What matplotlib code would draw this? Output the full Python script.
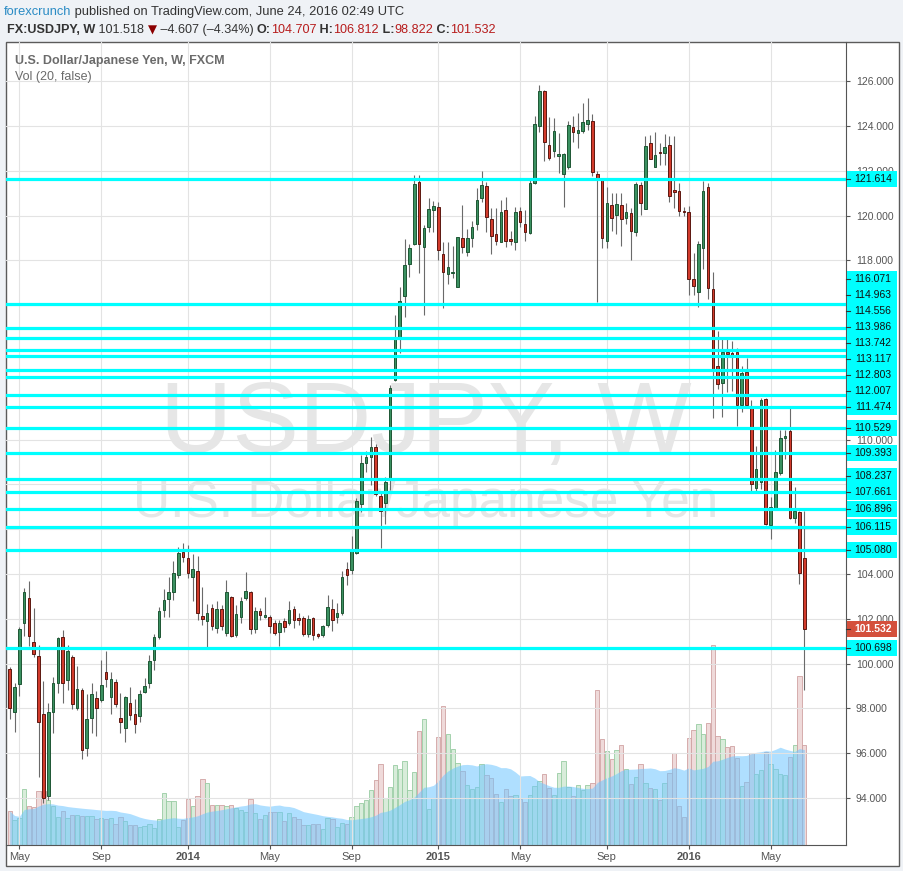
import numpy as np
import pandas as pd
import matplotlib
matplotlib.use("Agg")
import matplotlib.pyplot as plt
import matplotlib.dates as mdates
from matplotlib.patches import Rectangle
from matplotlib.lines import Line2D

plt.rcParams["font.family"] = ["Liberation Sans", "DejaVu Sans"]

W, H, DPI = 904, 871, 100

# weekly USDJPY bars (FXCM)
first_week = "2013-04-22"
opens = [99.74, 97.85, 99.08, 101.80, 102.95, 100.95, 100.35, 97.74, 94.07, 97.85,
         99.12, 101.17, 99.25, 100.31, 98.00, 98.82, 96.22, 97.56, 98.45, 98.36,
         99.63, 98.49, 99.16, 97.56, 97.11, 98.23, 97.74, 97.65, 98.72, 99.12,
         100.16, 101.20, 102.38, 102.90, 103.18, 103.96, 105.00, 104.70, 103.88, 104.12,
         102.13, 101.92, 102.47, 101.57, 102.42, 101.38, 102.96, 101.26, 102.06, 102.91,
         103.18, 101.53, 102.35, 102.10, 102.06, 101.80, 101.43, 101.90, 101.80, 102.42,
         102.02, 102.02, 101.31, 102.02, 101.31, 101.26, 101.71, 102.42, 102.10, 102.24,
         104.21, 104.20, 104.92, 107.11, 108.97, 109.24, 109.66, 107.48, 107.16, 108.27,
         112.66, 114.49, 116.43, 117.83, 118.72, 121.52, 118.58, 119.48, 120.23, 120.40,
         118.27, 117.38, 117.45, 116.83, 118.99, 118.39, 118.99, 119.63, 120.77, 121.32,
         119.83, 119.18, 118.81, 120.24, 118.96, 118.81, 120.19, 119.63, 119.21, 121.44,
         124.02, 125.56, 123.15, 122.90, 122.66, 121.84, 122.15, 123.97, 123.67, 123.79,
         124.07, 124.22, 121.84, 121.64, 118.88, 120.46, 120.03, 120.46, 119.91, 120.10,
         119.28, 121.35, 120.31, 123.23, 122.19, 122.86, 122.78, 123.15, 121.14, 121.10,
         120.20, 120.15, 117.16, 116.60, 118.57, 121.26, 116.72, 113.30, 112.51, 113.90,
         113.87, 113.90, 111.55, 113.03, 111.44, 107.85, 108.12, 111.81, 106.19, 106.96,
         108.50, 110.06, 110.38, 106.52, 106.75, 104.707]
highs = [99.83, 99.12, 101.65, 103.36, 103.69, 102.47, 100.83, 99.22, 98.23, 99.42,
         101.20, 101.50, 100.83, 100.40, 99.89, 98.90, 98.63, 99.12, 98.78, 100.16,
         100.56, 99.61, 99.31, 98.69, 98.57, 98.96, 98.42, 98.82, 99.37, 100.38,
         101.32, 102.54, 103.32, 103.88, 104.60, 105.20, 105.40, 105.30, 104.89, 104.80,
         103.43, 102.66, 102.66, 102.81, 102.62, 103.73, 103.00, 102.62, 102.99, 104.07,
         103.25, 102.54, 102.50, 102.99, 102.17, 101.95, 101.95, 102.02, 102.79, 102.57,
         102.24, 102.12, 102.17, 102.06, 101.35, 101.72, 103.06, 102.88, 102.72, 104.15,
         104.55, 105.70, 107.38, 109.31, 109.50, 110.10, 109.80, 107.60, 108.32, 112.44,
         115.56, 116.83, 118.96, 118.73, 121.80, 121.81, 119.58, 120.77, 120.67, 120.59,
         118.81, 118.84, 118.66, 119.06, 120.47, 119.40, 119.77, 121.22, 122.00, 121.52,
         120.32, 120.36, 120.70, 120.85, 119.30, 120.40, 120.40, 120.25, 121.63, 124.45,
         125.83, 125.60, 124.42, 124.34, 123.70, 122.80, 124.24, 124.45, 124.57, 125.01,
         125.27, 124.54, 122.00, 121.70, 121.26, 121.00, 121.00, 121.00, 120.55, 120.32,
         121.49, 121.49, 123.55, 123.60, 123.73, 123.23, 123.64, 123.55, 123.55, 121.47,
         120.40, 120.43, 118.32, 118.87, 121.55, 121.44, 117.47, 114.85, 114.49, 114.49,
         114.40, 114.08, 113.29, 113.63, 111.77, 109.73, 111.84, 111.87, 107.42, 109.54,
         110.43, 110.43, 111.43, 107.90, 106.81, 106.812]
lows = [97.54, 96.96, 98.57, 101.25, 100.79, 100.31, 94.95, 93.76, 93.90, 96.92,
        98.67, 98.23, 98.82, 97.96, 97.95, 95.76, 95.89, 96.92, 96.78, 98.30,
        98.97, 97.74, 98.08, 96.89, 96.52, 97.48, 96.92, 97.41, 98.70, 98.90,
        99.71, 101.10, 102.10, 102.10, 102.84, 103.80, 104.55, 103.80, 102.81, 101.95,
        101.72, 100.76, 101.50, 101.35, 101.50, 101.23, 101.17, 101.20, 101.80, 102.84,
        101.31, 101.35, 101.95, 102.02, 101.35, 101.28, 100.79, 101.43, 101.72, 101.57,
        101.72, 101.23, 101.20, 101.05, 101.13, 101.20, 101.65, 101.47, 101.80, 102.17,
        103.51, 104.00, 104.90, 106.78, 108.57, 107.97, 107.50, 105.18, 106.22, 107.75,
        112.62, 113.85, 115.46, 117.24, 118.70, 117.42, 115.56, 119.28, 119.28, 118.02,
        115.86, 116.93, 117.23, 116.83, 118.32, 118.20, 118.61, 119.36, 120.62, 119.28,
        118.29, 118.69, 118.80, 118.59, 118.70, 118.46, 119.50, 118.88, 119.20, 121.40,
        123.75, 122.45, 122.48, 122.60, 121.92, 120.40, 122.10, 123.27, 123.00, 123.70,
        123.82, 121.78, 116.16, 118.54, 118.54, 119.33, 119.18, 118.66, 119.63, 118.02,
        119.09, 120.03, 120.30, 122.51, 122.15, 122.26, 122.26, 120.62, 120.32, 119.98,
        119.98, 116.46, 116.46, 115.94, 117.62, 116.28, 110.95, 112.26, 111.02, 112.14,
        112.19, 110.62, 111.22, 111.50, 107.72, 107.72, 107.80, 106.20, 105.55, 106.90,
        108.42, 109.12, 106.45, 106.26, 103.54, 98.822]
closes = [98.00, 98.96, 101.53, 103.18, 101.22, 100.41, 97.41, 94.02, 97.82, 99.12,
          101.13, 99.12, 100.55, 98.18, 98.85, 96.13, 97.51, 98.63, 98.03, 99.03,
          99.30, 99.30, 98.18, 97.41, 98.51, 97.69, 97.29, 98.63, 99.00, 100.12,
          101.17, 102.35, 102.84, 103.20, 104.03, 104.95, 104.77, 104.06, 104.21, 102.24,
          101.98, 102.24, 101.69, 102.42, 101.69, 103.18, 101.23, 102.20, 102.79, 103.24,
          101.53, 102.35, 102.17, 102.15, 101.69, 101.35, 101.80, 101.65, 102.39, 101.95,
          101.96, 101.31, 101.98, 101.26, 101.25, 101.69, 102.51, 101.95, 102.24, 103.85,
          103.94, 105.05, 107.26, 108.94, 109.21, 109.66, 107.56, 106.81, 108.12, 112.32,
          114.52, 116.20, 117.78, 118.54, 121.40, 118.72, 119.43, 120.28, 120.43, 118.46,
          117.50, 117.69, 117.50, 119.03, 118.61, 118.99, 119.51, 120.70, 121.37, 119.95,
          119.09, 118.88, 120.15, 118.85, 118.88, 120.15, 119.73, 119.28, 121.44, 124.08,
          125.56, 123.30, 122.59, 123.78, 122.75, 122.75, 124.05, 123.72, 123.82, 124.16,
          124.27, 121.96, 121.64, 118.99, 120.55, 119.91, 120.50, 119.83, 120.15, 119.33,
          121.40, 120.55, 123.11, 122.54, 122.69, 122.78, 123.06, 120.89, 121.04, 120.22,
          120.15, 117.16, 116.87, 118.73, 121.10, 116.75, 113.11, 112.47, 113.90, 113.81,
          113.78, 111.55, 112.96, 111.55, 108.00, 108.69, 111.77, 106.22, 107.01, 108.54,
          110.06, 110.16, 106.49, 106.81, 104.03, 101.532]
volume = [34, 25, 27, 56, 39, 38, 54, 54, 45, 39, 28, 34, 27, 30, 30, 29, 29, 29, 26, 27,
          26, 27, 21, 28, 24, 20, 20, 18, 19, 21, 17, 26, 52, 44, 44, 18, 25, 46, 39, 49,
          66, 62, 40, 40, 40, 39, 40, 37, 35, 33, 46, 32, 26, 30, 33, 33, 33, 24, 32, 28,
          26, 20, 20, 21, 21, 16, 27, 26, 18, 22, 21, 28, 39, 42, 45, 55, 65, 81, 47, 58,
          80, 76, 84, 55, 73, 114, 126, 36, 47, 108, 139, 111, 96, 82, 74, 60, 56, 58, 81, 70,
          67, 51, 43, 56, 49, 50, 46, 43, 50, 59, 64, 71, 57, 50, 72, 84, 58, 49, 60, 55,
          60, 62, 155, 106, 94, 86, 95, 100, 76, 61, 68, 81, 62, 57, 56, 45, 62, 72, 92, 39,
          28, 107, 115, 121, 111, 122, 200, 109, 106, 98, 99, 87, 59, 63, 92, 71, 75, 93, 81, 76,
          71, 70, 88, 100, 169, 100]

levels = [121.614, 116.071, 114.963, 114.556, 113.986, 113.742, 113.117, 112.803, 112.007,
          111.474, 110.529, 109.393, 108.237, 107.661, 106.896, 106.115, 105.080, 100.698]
last_price = 101.532

# axis prices whose labels are fully hidden behind the level tags
hidden_ticks = [106, 108, 112, 114, 116]

weeks = pd.date_range(first_week, periods=len(opens), freq="7D")
df = pd.DataFrame({"open": opens, "high": highs, "low": lows,
                   "close": closes, "volume": volume}, index=weeks)
df["vol_ma"] = df["volume"].rolling(20, min_periods=1).mean()

fig = plt.figure(figsize=(W / DPI, H / DPI), dpi=DPI, facecolor="#eff2f6")

# white chart panel
fig.patches.append(Rectangle((6 / W, 1 - 866 / H), 893 / W, 824 / H, transform=fig.transFigure,
                             facecolor="white", edgecolor="#5b5b5b", lw=1, zorder=-1))

pos = [6 / W, 1 - 845 / H, 840 / W, 803 / H]
axv = fig.add_axes(pos)
ax = fig.add_axes(pos, sharex=axv)
ax.patch.set_visible(False)
axv.axis("off")

x = mdates.date2num(df.index)
up = (df["close"] >= df["open"]).to_numpy()

# volume + 20 period average
axv.bar(x, df["volume"], width=6.3, color=np.where(up, "#d8ecda", "#efdada"),
        edgecolor=np.where(up, "#98cca2", "#d0a2a2"), lw=0.6, zorder=1)
axv.fill_between(x, 0, df["vol_ma"], color="#6ec6ff", alpha=0.55, lw=0, zorder=2)
axv.set_ylim(0, 803)

# candles
lo = np.minimum(df["open"], df["close"]).to_numpy()
hgt = np.maximum((df["close"] - df["open"]).abs().to_numpy(), 0.04)
ax.vlines(x, df["low"], df["high"], color="#6a6a6a", lw=0.8, zorder=3)
ax.bar(x[up], hgt[up], bottom=lo[up], width=3.8, color="#3b9161",
       edgecolor="#1e5634", lw=0.7, zorder=4)
ax.bar(x[~up], hgt[~up], bottom=lo[~up], width=3.8, color="#d23b2c",
       edgecolor="#5c1710", lw=0.7, zorder=4)

for lv in levels:
    ax.axhline(lv, color="#00ffff", lw=2.3, zorder=5)

ax.set_xlim(x[0] - 5.4, x[0] + 1215.6)
ax.set_ylim(91.902, 127.75)

# watermark
ax.text(0.5, 0.489, "USDJPY, W", transform=ax.transAxes, ha="center", va="baseline",
        fontsize=72, color="#e6e6e6", zorder=1)
ax.text(0.5, 0.409, "U.S. Dollar/Japanese Yen", transform=ax.transAxes, ha="center",
        va="baseline", fontsize=37, color="#e6e6e6", zorder=1)

# axes styling
for s in ["left", "top"]:
    ax.spines[s].set_visible(False)
for s in ["right", "bottom"]:
    ax.spines[s].set_color("#555555")
ax.yaxis.tick_right()
yt = np.arange(94, 127, 2)
ax.set_yticks(yt)
ax.set_yticklabels(["" if v in hidden_ticks else f"{v:.3f}" for v in yt])
ax.tick_params(axis="y", length=3, width=0.8, color="#555555", labelcolor="#555555",
               labelsize=7.5, pad=4)

month = df.index.month.to_numpy()
first_bar = np.r_[True, month[1:] != month[:-1]]
sel = first_bar & np.isin(month, [1, 5, 9])
ax.set_xticks(x[sel])
ax.set_xticklabels([d.strftime("%Y") if d.month == 1 else d.strftime("%b") for d in df.index[sel]])
ax.tick_params(axis="x", length=3, width=0.8, color="#555555", labelcolor="#555555",
               labelsize=8, pad=2)
for t in ax.get_xticklabels():
    t.set_family(["Liberation Sans Narrow", "Liberation Sans"])
    if t.get_text().isdigit():
        t.set_fontweight("bold")
ax.grid(color="#e3e3e3", lw=0.8, zorder=0)
ax.set_axisbelow(True)

# price tags on the right axis, stacked so they do not overlap
tags = sorted([(lv, "lvl") for lv in levels] + [(last_price, "last")])
prev = -1e9
for p, kind in tags:
    yy = max(ax.transData.transform((x[0], p))[1], prev + 16)
    prev = yy
    fc = "#00ffff" if kind == "lvl" else "#d4503c"
    tc = "#111111" if kind == "lvl" else "white"
    fig.patches.append(Rectangle((847 / W, (yy - 8) / H), 50 / W, 16 / H, transform=fig.transFigure,
                                 facecolor=fc, edgecolor="none", zorder=5))
    fig.lines.append(Line2D([846 / W, 850 / W], [yy / H, yy / H], transform=fig.transFigure,
                            color="#333333", lw=0.8, zorder=6))
    fig.text(873 / W, yy / H, f"{p:.3f}", ha="center", va="center", fontsize=7.5, color=tc,
             weight="bold" if kind == "last" else "normal", zorder=7)

# header text
renderer = fig.canvas.get_renderer()


def write_run(pieces, x0, y0):
    xx = x0
    for s, kw in pieces:
        t = fig.text(xx / W, 1 - y0 / H, s, ha="left", va="center", **kw)
        xx = t.get_window_extent(renderer).x1


dark = "#333333"
red = "#b71c1c"
fs = 9.1
write_run([("forexcrunch", dict(color="#2a8bc4", fontsize=9.3)),
           (" published on TradingView.com, June 24, 2016 02:49 UTC", dict(color=dark, fontsize=9.3))],
          4, 12)
write_run([("FX:USDJPY, W", dict(color=dark, fontsize=fs, weight="bold")),
           (" 101.518 ", dict(color=dark, fontsize=fs)),
           ("▼", dict(color="#8b0000", fontsize=8.5, family="DejaVu Sans")),
           (" \u20134.607 (\u20134.34%) ", dict(color=dark, fontsize=fs)),
           ("O:", dict(color=dark, fontsize=fs, weight="bold")),
           ("104.707", dict(color=red, fontsize=fs)),
           (" H:", dict(color=dark, fontsize=fs, weight="bold")),
           ("106.812", dict(color=red, fontsize=fs)),
           (" L:", dict(color=dark, fontsize=fs, weight="bold")),
           ("98.822", dict(color=red, fontsize=fs)),
           (" C:", dict(color=dark, fontsize=fs, weight="bold")),
           ("101.532", dict(color=red, fontsize=fs))],
          7, 30)

fig.text(15 / W, 1 - 61 / H, "U.S. Dollar/Japanese Yen, W, FXCM", ha="left", va="center",
         fontsize=9, weight="bold", color="#6b6b6b")
fig.text(15 / W, 1 - 77 / H, "Vol (20, false)", ha="left", va="center", fontsize=9, color="#6b6b6b")

fig.savefig("out.png", dpi=DPI, facecolor=fig.get_facecolor())
